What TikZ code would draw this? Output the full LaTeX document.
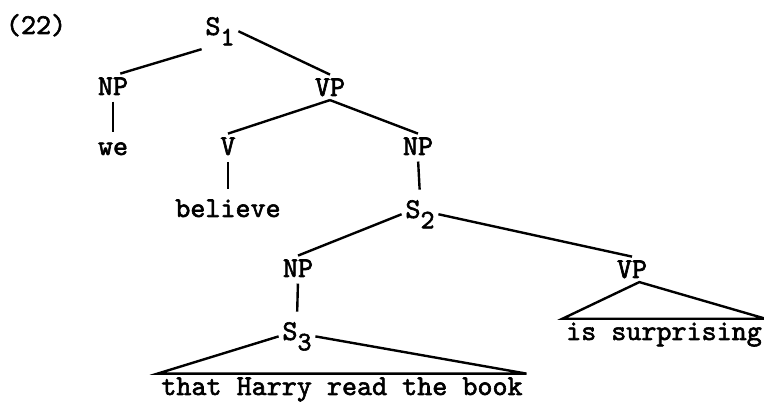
\documentclass[tikz,border=0pt]{standalone}
\usepackage{fontspec}
\usepackage{tikz}
\newfontfamily\tw{lmmono10-regular.otf}[FakeBold=2]
\newcommand\lowdig[1]{\raisebox{-0.36em}{\fontsize{20}{22}\selectfont #1}}

\begin{document}
\begin{tikzpicture}[x=0.75pt,y=0.75pt,yscale=-1,xscale=1,line width=1.8pt,
  lbl/.style={font=\tw\fontsize{21.5}{24}\selectfont, inner sep=2pt, anchor=base},
  stem/.style={shorten <=2pt, shorten >=5pt}]
        \useasboundingbox (0,0) rectangle (764,402);

        % Text Node
        \node[lbl] (ex) at (36,34) {(22)};
        % Text Node
        \node[lbl] (s1) at (220,35) {S\lowdig{1}};
        % Text Node
        \node[lbl] (np1) at (113,95) {NP};
        % Text Node
        \node[lbl] (vp1) at (330,96) {VP};
        % Text Node
        \node[lbl] (we) at (113,155) {we};
        % Text Node
        \node[lbl] (v) at (228,155) {V};
        % Text Node
        \node[lbl] (np2) at (418,155) {NP};
        % Text Node
        \node[lbl] (bel) at (228,217) {believe};
        % Text Node
        \node[lbl] (s2) at (420,218) {S\lowdig{2}};
        % Text Node
        \node[lbl] (np3) at (298,277) {NP};
        % Text Node
        \node[lbl] (vp2) at (632,278) {VP};
        % Text Node
        \node[lbl] (s3) at (297,340) {S\lowdig{3}};
        % Text Node
        \node[lbl] (surp) at (664,340) {is surprising};
        % Text Node
        \node[lbl] (sent) at (342,395) {that Harry read the book};

        %Straight Lines
        \draw (s1.south west) -- (np1.60);
        \draw (s1.east) -- (vp1.north);
        \draw[stem] (np1.south) -- (we.north);
        \draw (vp1.south) -- (v.north);
        \draw (vp1.south) -- (np2.north);
        \draw[stem] (v.south) -- (bel.north);
        \draw[stem] (np2.south) -- (s2.north);
        \draw (s2.west) -- (np3.north);
        \draw (s2.east) -- (vp2.north);
        \draw[stem] (np3.south) -- (s3.north);
        %Shape: Triangle
        \draw (s3.west) -- (sent.north west) -- (sent.north east) -- (s3.east);
        %Shape: Triangle
        \draw (vp2.-60) -- (surp.north west) -- (surp.north east) -- cycle;

\end{tikzpicture}
\end{document}
